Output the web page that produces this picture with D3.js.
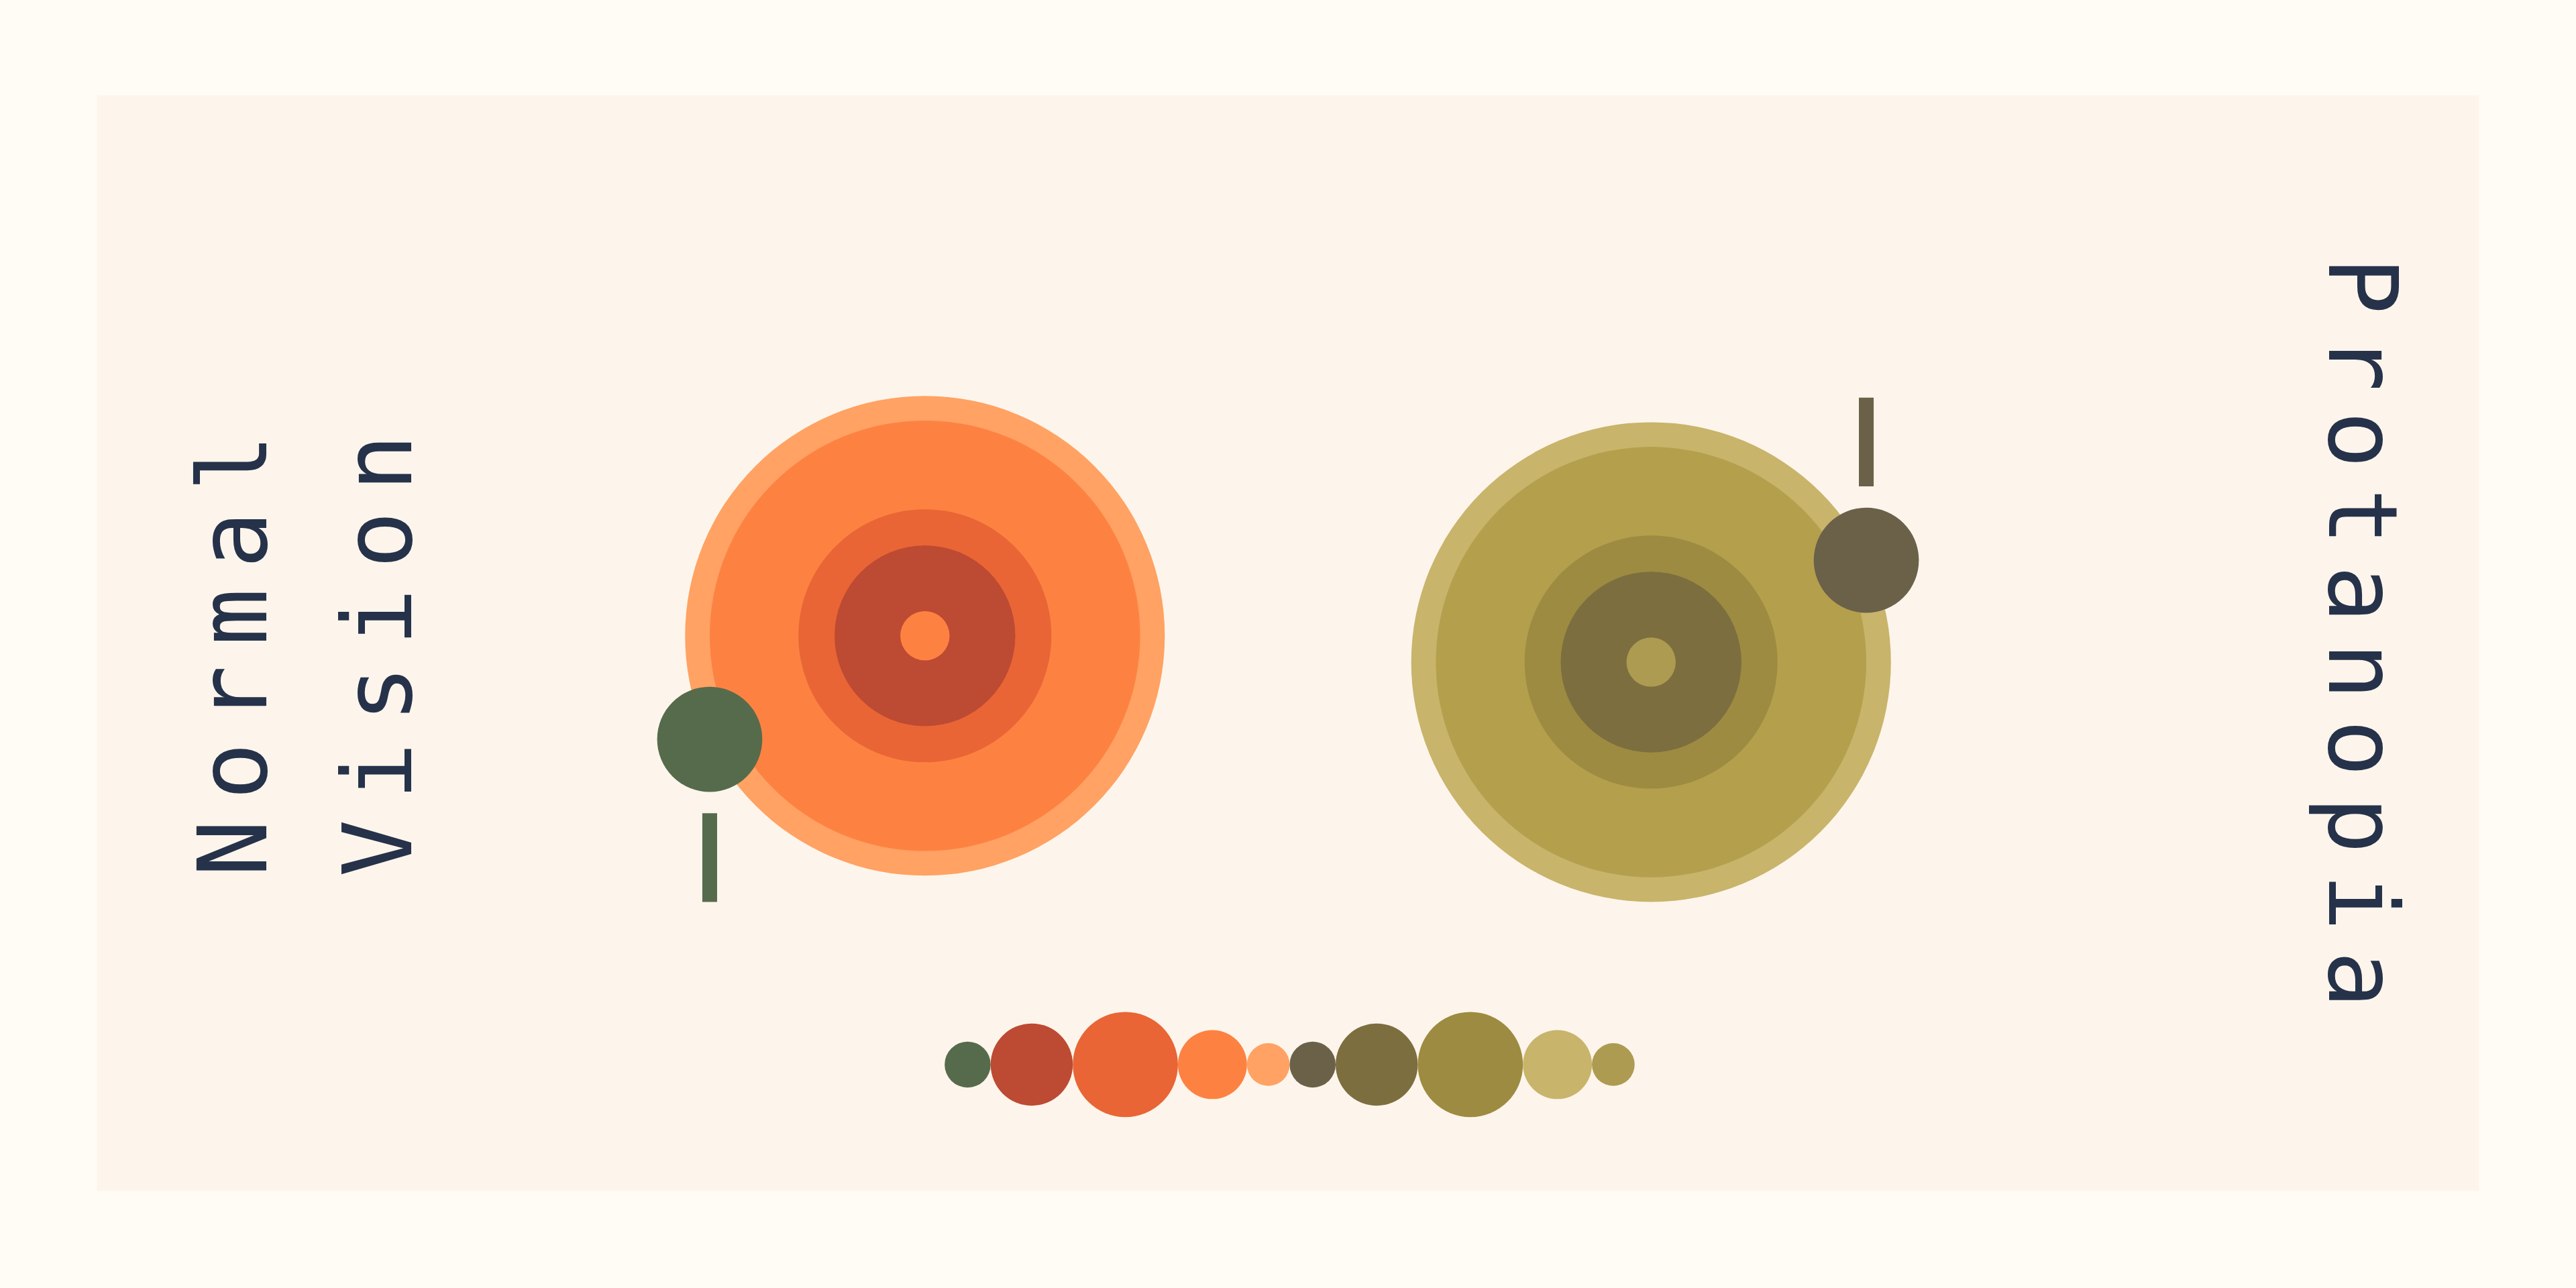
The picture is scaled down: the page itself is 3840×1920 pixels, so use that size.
<!DOCTYPE html>
<html><head><meta charset="utf-8">
<script src="https://cdn.jsdelivr.net/npm/d3@7"></script>
<style>body{margin:0;background:#fffbf5}</style>
</head><body>
<svg id="chart" width="3840" height="1920" viewBox="0 0 1568 784"></svg>
<script>
// ring radii, outer to inner
var ringRadii = [146, 131, 77, 55, 15];
var normalColors = ["#ffa263", "#fd8242", "#e96535", "#bd4a32", "#fd8242"];
var protanColors = ["#c8b46b", "#b4a04c", "#9d8b41", "#7c6e3f", "#ad9b51"];
var swatchColors = ["#566b4b","#bd4a32","#e96535","#fd8242","#ffa263","#6b6149","#7c6e3f","#9d8b41","#c8b46b","#ad9b51"];
var swatchRadii = [14, 25, 32, 21, 13, 14, 25, 32, 21, 13];
var panels = [
  {label:["Normal","Vision"], cx:563, cy:387, colors:normalColors, dot:"#566b4b", dotPos:[432,450], tick:[495,549]},
  {label:["Protanopia"], cx:1005, cy:403, colors:protanColors, dot:"#6b6149", dotPos:[1136,341], tick:[242,296]}
];

var svg = d3.select('#chart');
svg.append('rect').attr('width',1568).attr('height',784).attr('fill','#fffbf5');
svg.append('rect').attr('x',59).attr('y',58).attr('width',1450).attr('height',667).attr('fill','#fdf5eb');

var r = d3.scaleLinear().domain([0,1]).range([0,1]);
panels.forEach(function(p){
  svg.append('g').selectAll('circle').data(ringRadii).join('circle')
    .attr('cx',p.cx).attr('cy',p.cy).attr('r',function(d){return r(d);})
    .attr('fill',function(d,i){return p.colors[i];});
  svg.append('line').attr('x1',p.dotPos[0]).attr('x2',p.dotPos[0])
    .attr('y1',p.tick[0]).attr('y2',p.tick[1])
    .attr('stroke',p.dot).attr('stroke-width',9);
  svg.append('circle').attr('cx',p.dotPos[0]).attr('cy',p.dotPos[1]).attr('r',32).attr('fill',p.dot);
});

// swatch row, circles touching
var x = 575, sw = [];
swatchRadii.forEach(function(rr,i){ sw.push({x:x+rr, r:rr, c:swatchColors[i]}); x += 2*rr; });
var offset = 0;
svg.append('g').selectAll('circle').data(sw).join('circle')
  .attr('cx',function(d){return d.x+offset;}).attr('cy',648)
  .attr('r',function(d){return d.r;}).attr('fill',function(d){return d.c;});

var font = {family:"'DejaVu Sans Mono', monospace", size:58, spacing:12};
function label(lines, x0, cy, rot, dx){
  lines.forEach(function(t,i){
    svg.append('text')
      .attr('transform','translate('+(x0+i*dx)+','+cy+') rotate('+rot+')')
      .attr('text-anchor','middle').attr('dy','0.35em')
      .attr('font-family',font.family).attr('font-size',font.size)
      .attr('letter-spacing',font.spacing)
      .attr('fill','#26324a').text(t);
  });
}
label(panels[0].label, 142, 393, -90, 88);
label(panels[1].label, 1438, 391, 90, 0);
</script>
</body></html>
